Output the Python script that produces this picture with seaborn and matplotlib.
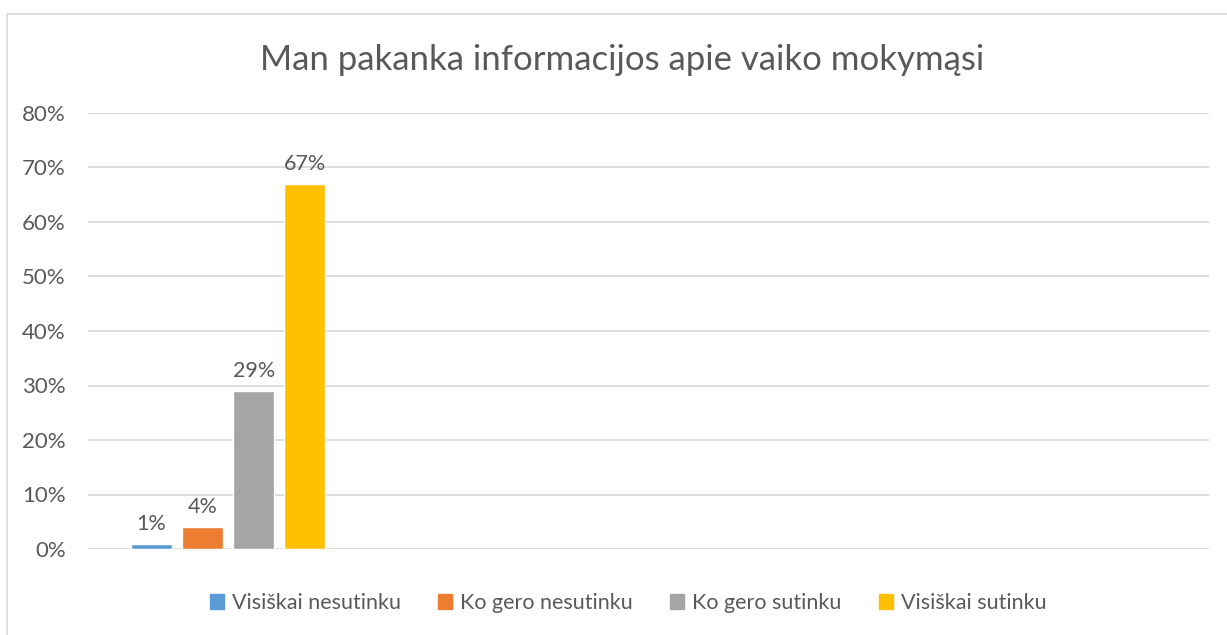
import matplotlib
matplotlib.use("Agg")
import matplotlib.pyplot as plt
import seaborn as sns
import pandas as pd
from matplotlib.lines import Line2D
from matplotlib.ticker import PercentFormatter, MultipleLocator

title = "Man pakanka informacijos apie vaiko mokymąsi"
series = ["Visiškai nesutinku", "Ko gero nesutinku", "Ko gero sutinku", "Visiškai sutinku"]
values = [0.01, 0.04, 0.29, 0.67]
labels = ["1%", "4%", "29%", "67%"]
colors = ["#5B9BD5", "#ED7D31", "#A5A5A5", "#FFC000"]
category = "Q"

sns.set_theme(style="white")
plt.rcParams["font.family"] = ["Lato", "DejaVu Sans"]
TXT = "#595959"
GRID = "#D9D9D9"

df = pd.DataFrame({"cat": [category] * len(series), "series": series, "value": values})

W, H = 1227, 635
fig = plt.figure(figsize=(W / 100, H / 100), dpi=100)
ax = fig.add_axes([88 / W, 1 - 549 / H, (1209 - 88) / W, (549 - 113) / H])

sns.barplot(data=df, x="cat", y="value", hue="series", hue_order=series,
            palette=colors, width=0.73, gap=0.2, ax=ax, legend=True,
            saturation=1, errorbar=None)

ax.set_xlim(-0.5, 3.5)
ax.set_ylim(0, 0.8)
ax.yaxis.set_major_locator(MultipleLocator(0.1))
ax.yaxis.set_major_formatter(PercentFormatter(1.0, decimals=0))
ax.grid(axis="y", color=GRID, linewidth=1.3)
ax.set_axisbelow(True)
for s in ax.spines.values():
    s.set_visible(False)
ax.set_xticks([])
ax.set_xlabel("")
ax.set_ylabel("")
ax.tick_params(axis="y", length=0, pad=16, labelsize=16, labelcolor=TXT)

for cont, lab in zip(ax.containers, labels):
    ax.bar_label(cont, labels=[lab], padding=7, fontsize=15.5, color=TXT)

ax.legend_.remove()
handles = [plt.Rectangle((0, 0), 1, 1, color=c) for c in colors]
fig.legend(handles, series, loc="center", bbox_to_anchor=(0.512, 1 - 603 / H),
           ncol=4, frameon=False, handlelength=0.65, handleheight=0.65,
           handletextpad=0.35, columnspacing=1.75, fontsize=15.5,
           labelcolor=TXT)

fig.text(0.507, 1 - 60 / H, title, ha="center", va="center", fontsize=25, color=TXT)

fig.add_artist(Line2D([7 / W, 7 / W], [0, 1 - 14 / H], color=GRID, linewidth=1.2))
fig.add_artist(Line2D([7 / W, 1], [1 - 14 / H, 1 - 14 / H], color=GRID, linewidth=1.2))

fig.savefig("out.png", dpi=100)
